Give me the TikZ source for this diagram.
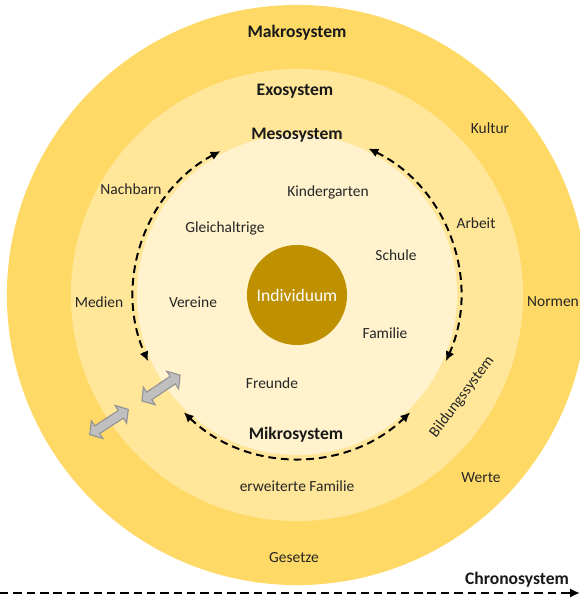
\documentclass[tikz,border=0pt]{standalone}
\usepackage{fontspec}
\setmainfont{Carlito}
\definecolor{makro}{RGB}{255,217,102}
\definecolor{exo}{RGB}{255,230,153}
\definecolor{meso}{RGB}{255,242,204}
\definecolor{indiv}{RGB}{191,144,0}
\definecolor{grau1}{RGB}{191,191,191}
\usetikzlibrary{shapes, shapes.arrows, arrows.meta, positioning, calc}

\begin{document}
\begin{tikzpicture}[x=0.025cm, y=0.025cm,
  kreis/.style={circle, inner sep=0pt},
  lbl/.style={font=\fontsize{11}{13}\selectfont, text=black!85},
  sysname/.style={font=\fontsize{12.5}{14}\selectfont\bfseries, text=black!90},
  mesoarc/.style={line width=1.4pt, dash pattern=on 5.5pt off 3.5pt, {Latex[length=7pt,width=6.5pt]}-{Latex[length=7pt,width=6.5pt]}},
  austausch/.style={double arrow, draw=gray!85, fill=grau1, line width=0.8pt, inner xsep=0pt, inner ysep=0.1cm,
    minimum height=1.15cm, double arrow head extend=0.15cm, double arrow tip angle=100}
]
  \useasboundingbox (-297,-306) rectangle (283,295);

  % Systeme
  \node[kreis, fill=makro, minimum size=14.5cm] (makrokreis) at (0,0) {};
  \node[kreis, fill=exo, minimum size=11.3cm] (exokreis) at (0,0) {};
  \node[kreis, fill=meso, minimum size=8cm] (mesokreis) at (0,0) {};
  \node[kreis, fill=indiv, minimum size=2.5cm, text=white, font=\fontsize{12.5}{14}\selectfont] (indiv) at (0,0) {Individuum};

  \draw[mesoarc] ([shift={(118:163)}]indiv.center) arc[start angle=118, end angle=204, radius=163];
  \draw[mesoarc] ([shift={(64:163)}]indiv.center) arc[start angle=64, end angle=-24, radius=163];
  \draw[mesoarc] ([shift={(226:163)}]indiv.center) arc[start angle=226, end angle=314, radius=163];

  \node[austausch, rotate=34] (pfeilA) at (-136,-93) {};
  \node[austausch, rotate=33] (pfeilB) at (-188,-127) {};

  \node[sysname] (makro) at (0,262) {Makrosystem};
  \node[sysname] (exo) at (-2,204) {Exosystem};
  \node[sysname] (meso) at (0,160) {Mesosystem};
  \node[sysname] (mikro) at (-1,-140) {Mikrosystem};

  % Mikro
  \node[lbl] (kiga) at (31,103) {Kindergarten};
  \node[lbl] (gleich) at (-72,67) {Gleichaltrige};
  \node[lbl] (schule) at (99,40) {Schule};
  \node[lbl] (vereine) at (-104,-7) {Vereine};
  \node[lbl] (familie) at (88,-38) {Familie};
  \node[lbl] (freunde) at (-25,-88) {Freunde};

  % Exo
  \node[lbl] (nachbarn) at (-166,106) {Nachbarn};
  \node[lbl] (arbeit) at (179,72) {Arbeit};
  \node[lbl] (medien) at (-198,-7) {Medien};
  \node[lbl, rotate=53] (bildung) at (165,-102) {Bildungssystem};
  \node[lbl] (erwfam) at (0,-191) {erweiterte Familie};

  % Makro
  \node[lbl] (kultur) at (193,167) {Kultur};
  \node[lbl] (normen) at (256,-7) {Normen};
  \node[lbl] (werte) at (184,-183) {Werte};
  \node[lbl] (gesetze) at (-3,-263) {Gesetze};

  % Chrono
  \coordinate (chronoA) at (-297,-298);
  \coordinate (chronoB) at (283,-298);
  \draw[line width=1.4pt, dash pattern=on 6pt off 3.5pt, -{Latex[length=7pt,width=6.5pt]}] (chronoA) -- (chronoB);
  \node[sysname] (chrono) at (220,-285) {Chronosystem};
\end{tikzpicture}
\end{document}
